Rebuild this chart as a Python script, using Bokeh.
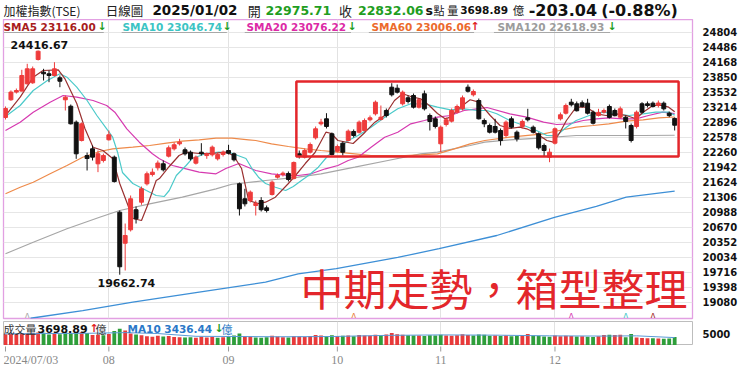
from bokeh.plotting import figure
from bokeh.models import Range1d, FixedTicker, Label, BoxAnnotation, ColumnDataSource
from bokeh.layouts import column
from bokeh.embed import file_html
from bokeh.resources import INLINE

# ---------------- data ----------------
opens = [22996, 23371, 23534, 23555, 23710, 23731, 24225, 23956, 23922, 23886,
         23837, 23371, 23235, 22896, 22508, 22189, 22332, 22014, 22084, 22523,
         22155, 20988, 20331, 20615, 21040, 21200, 21590, 21787, 21930, 22014,
         22176, 22332, 22438, 22311, 22260, 22028, 22260, 22189, 22205, 22120,
         22212, 22296, 22226, 21590, 21272, 21236, 21130, 21236, 21081, 21363,
         21730, 21787, 21808, 21702, 22226, 22155, 22260, 22565, 22862, 22968,
         22650, 22281, 22451, 22508, 22699, 22684, 22720, 22947, 23074, 22953,
         23144, 23638, 23617, 23286, 23413, 23462, 23214, 23498, 23038, 22968,
         22438, 22847, 22918, 23108, 23180, 23638, 23477, 23356, 22932, 22826,
         22805, 22720, 22614, 22968, 22684, 22805, 22989, 22790, 22650, 22402,
         22155, 22451, 22968, 23087, 23320, 23286, 23307, 23299, 23108, 23038,
         23108, 23229, 23144, 23002, 23002, 22826, 22805, 23286, 23286, 23299,
         23250, 23299, 23087, 22975.71]
highs = [23229, 23570, 23610, 24007, 24134, 24077, 24416.67, 24028, 23992, 24168,
         23886, 23462, 23271, 22932, 22890, 22253, 22402, 22296, 22230, 22720,
         22189, 21024, 20748, 21342, 21110, 21532, 21850, 21915, 22084, 22084,
         22402, 22466, 22544, 22360, 22296, 22189, 22451, 22253, 22402, 22253,
         22296, 22417, 22253, 21617, 21484, 21448, 21236, 21307, 21130, 21660,
         21808, 21851, 21851, 22063, 22296, 22338, 22466, 22805, 22968, 23087,
         22678, 22423, 22487, 22742, 22742, 22932, 22975, 23038, 23356, 23250,
         23186, 23723, 23695, 23568, 23462, 23504, 23398, 23568, 23080, 23017,
         22826, 22996, 23186, 23271, 23462, 23695, 23589, 23398, 22975, 22868,
         22968, 22763, 22932, 23017, 22720, 22953, 23180, 22826, 22678, 22445,
         22338, 22784, 23102, 23292, 23392, 23335, 23356, 23392, 23144, 23180,
         23186, 23271, 23186, 23229, 23038, 22868, 23144, 23320, 23335, 23335,
         23356, 23335, 23123, 22996]
lows = [22953, 23350, 23504, 23547, 23695, 23710, 24204, 23780, 23744, 23865,
        23638, 23144, 22847, 22120, 22487, 21872, 22084, 21837, 22042, 22508,
        21617, 19662.74, 19752, 20579, 20748, 21145, 21554, 21745, 21872, 21851,
        22148, 22296, 22402, 22189, 22084, 21999, 22189, 22120, 22169, 22084,
        22169, 22212, 22063, 20918, 21110, 21194, 20918, 21003, 20982, 21342,
        21702, 21745, 21639, 21681, 22126, 22126, 22232, 22529, 22826, 22763,
        22190, 22254, 22189, 22487, 22572, 22657, 22699, 22911, 23038, 22932,
        22996, 23441, 23504, 23250, 23292, 23186, 23186, 23144, 22720, 22763,
        22260, 22805, 22890, 23080, 23144, 23525, 23441, 22953, 22790, 22657,
        22657, 22402, 22572, 22763, 22487, 22763, 22911, 22657, 22317, 22169,
        22048, 22423, 22932, 23059, 23229, 23123, 23208, 23059, 22847, 23017,
        23080, 22975, 23020, 22975, 22763, 22466, 22763, 23080, 23208, 23208,
        23208, 23144, 23002, 22720]
closes = [23186, 23534, 23568, 23886, 24028, 24028, 24401, 23922, 23886, 24028,
          23765, 23426, 22862, 22226, 22862, 22126, 22155, 22226, 22189, 22629,
          21638, 19830.88, 20494, 21272, 20848, 21484, 21802, 21836, 22030, 21887,
          22353, 22417, 22472, 22226, 22120, 22155, 22226, 22226, 22367, 22212,
          22260, 22239, 22099, 21060, 21166, 21413, 21173, 21040, 21024, 21624,
          21766, 21815, 21681, 22042, 22169, 22296, 22423, 22756, 22896, 22805,
          22212, 22381, 22260, 22706, 22614, 22896, 22932, 22989, 23320, 23002,
          23038, 23477, 23532, 23532, 23335, 23214, 23371, 23180, 22911, 22805,
          22790, 22947, 23144, 23229, 23413, 23553, 23547, 22968, 22862, 22684,
          22684, 22508, 22896, 22790, 22544, 22911, 22947, 22684, 22353, 22296,
          22260, 22756, 23053, 23250, 23265, 23139, 23231, 23087, 22875, 23104,
          23144, 22998, 23034, 23180, 22913, 22508, 23108, 23108, 23250, 23230,
          23303, 23180, 23035.10, 22832.06]
volumes = [4900, 5100, 5000, 5300, 5200, 5400, 5600,
           5500, 4800, 5000, 4900, 5600, 5300, 5700, 5800,
           5400, 4600, 4700, 4500, 5000,
           6300, 7300, 6500,
           5200, 4800, 4500, 4000, 3800, 4200, 3900, 4100,
           3700, 3600, 3500, 3600, 3400, 3800, 3500, 3700, 3400, 3600, 4000, 4300,
           5200,
           4000, 3800, 3500, 3400, 3600, 4200, 3900, 3600, 3500, 4000, 3900, 3700, 4100, 4600, 4300, 4000, 4500,
           4100, 4200, 4300, 4000, 4600, 4400, 4200, 4700, 4500, 4800, 5400, 4900, 4700, 4500, 4400, 4300, 4100, 4500, 4300,
           4700, 4300, 4200, 4500, 4900, 4600, 4400, 4800, 4700, 4200, 4300, 4100, 4400, 4000, 4100, 4300, 5000, 4400, 4200, 3900, 3800,
           4300, 4000, 4200, 4100, 3900, 4000, 3800, 3700, 4000, 4600, 4700, 4600, 4700,
           3600, 5000, 3500, 3300, 3200, 3100, 3000, 2900, 3065, 3698.89]

# moving-average lines (bar index, value)
sma5_x = [0, 2.7, 5.1, 6.9, 9.7, 10.9, 13.1, 14.6, 16.1, 17.9, 19.7, 21.0, 22.3, 23.4, 25.0, 26.1, 27.7, 28.3,
          30.1, 31.9, 33.2, 35.6, 38.0, 40.5, 41.9, 43.4, 44.7, 46.5, 47.8, 49.6, 52.0, 53.3, 55.1, 56.9, 58.9,
          59.9, 61.1, 63.9, 66.1, 67.9, 69.7, 71.5, 73.0, 74.5, 76.3, 77.9, 79.4, 80.8, 81.8, 83.6, 85.4, 87.0,
          89.1, 90.9, 92.7, 94.5, 95.8, 97.6, 99.5, 100.7, 101.8, 103.1, 104.9, 106.8, 108.6, 110.4, 112.2,
          114.1, 115.9, 117.2, 119.0, 120.8, 121.9, 123]
sma5_y = [23038, 23426, 23850, 23992, 24007, 23822, 23292, 22762, 22366, 22296, 22126, 21596, 21200, 20854,
          20812, 21130, 21660, 21702, 21957, 22190, 22260, 22232, 22232, 22260, 22190, 21914, 21236, 21172,
          21200, 21306, 21596, 21766, 22020, 22254, 22684, 22656, 22508, 22444, 22684, 22896, 23038, 23356,
          23498, 23441, 23392, 23250, 23080, 22968, 23002, 23214, 23371, 23320, 23038, 22826, 22762, 22790,
          22756, 22656, 22508, 22472, 22656, 22932, 23214, 23214, 23074, 23038, 23074, 23038, 22968, 23108,
          23250, 23250, 23214, 23116.00]
sma10_x = [0, 2.7, 5.1, 7.7, 10.0, 11.3, 13.1, 15.0, 16.8, 18.6, 19.7, 20.6, 21.5, 23.4, 25.9, 27.7, 29.2,
           30.1, 31.4, 33.2, 34.3, 36.9, 39.2, 41.6, 44.2, 45.3, 46.5, 47.8, 49.6, 51.5, 52.9, 54.4, 55.7, 57.5,
           59.3, 61.1, 63.0, 64.8, 67.2, 69.7, 72.1, 74.5, 77.0, 79.4, 81.8, 84.3, 86.7, 88.5, 90.3, 92.7, 95.3,
           97.6, 99.5, 101.3, 103.1, 104.9, 107.3, 109.9, 112.2, 114.6, 117.2, 119.5, 121.9, 123]
sma10_y = [23016, 23250, 23568, 23780, 23922, 23850, 23638, 23356, 23038, 22756, 22578, 22260, 21830, 21596,
           21448, 21342, 21321, 21448, 21766, 21978, 22126, 22232, 22260, 22239, 22126, 21914, 21730, 21596,
           21518, 21448, 21533, 21660, 21766, 21942, 22190, 22332, 22508, 22614, 22790, 23002, 23180, 23286,
           23286, 23214, 23159, 23180, 23144, 23144, 23074, 22932, 22826, 22720, 22614, 22614, 22790, 22932,
           23038, 23108, 23074, 23038, 23074, 23108, 23108, 23046.74]
sma20_x = [0, 2.7, 5.1, 8.2, 10.6, 13.1, 16.1, 18.6, 20.1, 22.3, 24.6, 27.0, 28.3, 30.7, 31.9, 35.6, 38.7,
           40.5, 42.9, 46.0, 48.9, 52.0, 53.8, 56.2, 58.8, 61.1, 63.0, 64.8, 67.2, 69.7, 72.1, 74.5, 77.0, 79.4,
           81.8, 84.3, 86.7, 88.5, 92.7, 95.8, 98.9, 101.3, 103.6, 106.2, 108.6, 110.9, 113.5, 115.9, 118.2,
           120.8, 123]
sma20_y = [22720, 22896, 23108, 23320, 23462, 23426, 23356, 23250, 23108, 22756, 22472, 22226, 22120, 21978,
           21942, 21836, 21802, 21914, 22020, 21872, 21802, 21766, 21766, 21802, 21908, 21978, 22084, 22154,
           22366, 22578, 22684, 22862, 22932, 23002, 23038, 23144, 23180, 23208, 23074, 23002, 22896, 22847,
           22862, 22932, 22968, 22989, 22968, 22968, 23038, 23108, 23076.22]
sma60_x = [0, 2.7, 5.1, 8.2, 11.3, 14.2, 17.3, 19.7, 23.4, 26.5, 29.6, 32.5, 35.6, 38.7, 41.6, 44.7, 46.0,
           48.9, 52.0, 55.1, 58.0, 61.1, 64.2, 67.2, 70.3, 73.4, 76.3, 79.4, 82.5, 85.4, 88.1, 92.7, 98.9,
           101.8, 104.9, 108.0, 110.9, 114.1, 117.2, 120.1, 123]
sma60_y = [21378, 21518, 21624, 21802, 21978, 22154, 22275, 22332, 22366, 22402, 22451, 22493, 22523, 22557,
           22557, 22523, 22508, 22438, 22381, 22332, 22296, 22260, 22226, 22190, 22190, 22190, 22205, 22226,
           22332, 22438, 22508, 22578, 22650, 22720, 22790, 22826, 22862, 22917, 22947, 22989, 23006.06]
sma120_x = [0, 5.1, 11.3, 17.3, 21.0, 26.5, 32.5, 38.7, 41.6, 47.8, 53.8, 58.0, 64.2, 70.3, 76.3, 79.4,
            85.4, 88.1, 92.7, 98.9, 104.9, 110.9, 117.2, 123]
sma120_y = [20106, 20352, 20636, 20882, 21024, 21166, 21306, 21484, 21580, 21660, 21730, 21802, 21942,
            22084, 22226, 22260, 22402, 22472, 22523, 22565, 22614, 22614, 22614, 22618.93]
sma240_x = [4.6, 14.2, 23.4, 35.6, 47.8, 53.8, 60.8, 72.1, 79.7, 90.3, 100.9, 108.6, 114.1, 123]
sma240_y = [18740, 18902, 19080, 19292, 19504, 19682, 19794, 20028, 20218, 20494, 20876, 21109, 21306, 21433]
vma10_x = [0, 8, 15, 22, 28, 35, 43, 50, 60, 70, 80, 90, 100, 110, 116, 123]
vma10_y = [5100, 5200, 5300, 5600, 5200, 4000, 3900, 3800, 3900, 4400, 4600, 4500, 4200, 4100, 4200, 3436.44]

signal_idx = [4, 64, 104, 114, 119]
signal_colors = ["#A8A8A8", "#E8803A", "#D63AB0", "#44C8C8", "#A02828"]

price_ticks = [19080, 19398, 19716, 20034, 20352, 20670, 20988, 21306, 21624, 21942, 22260, 22578,
               22896, 23214, 23532, 23850, 24168, 24486, 24804]
month_idx = [0, 19, 41, 61, 80, 101]
month_labels = ["2024/07/03", "08", "09", "10", "11", "12"]

# ---------------- geometry ----------------
W = 740
BAR_PX = 5.48
FL, FR = 3, 697          # frame left / right on canvas
H_TOP = 19               # header strip height
P_TOP, P_BOT = 19, 318   # price frame (canvas y)
V_TOP, V_BOT = 321, 345  # volume frame (canvas y)
PTS_PER_PX = 21.2
x_start = -(5 - FL) / BAR_PX
x_end = x_start + (FR - FL) / BAR_PX
xr = Range1d(x_start, x_end)
y_hi = 24804 + (31.7 - P_TOP) * PTS_PER_PX
y_lo = y_hi - (P_BOT - P_TOP) * PTS_PER_PX


def sx_to_data(X):
    return x_start + (X - FL) / BAR_PX


def sy_to_price(Y):
    return y_hi - (Y - P_TOP) * PTS_PER_PX


CJK = "Noto Sans CJK TC"
LAT = "DejaVu Sans"
GREEN = "#1F9E1F"
RED_ARROW = "#E02020"

# ---------------- header strip (frame aligned with the panels below) ----------------
p0 = figure(width=W, height=H_TOP, x_range=Range1d(FL, FR), y_range=Range1d(H_TOP, 0),
            output_backend="svg", toolbar_location=None, x_axis_location=None, y_axis_location=None,
            min_border_left=FL, min_border_right=W - FR, min_border_top=0, min_border_bottom=0)
p0.outline_line_color = None
p0.grid.visible = False
p0.background_fill_color = "white"
p0.border_fill_color = "white"


def hlab(X, text, size, color, bold=False, font=LAT):
    p0.add_layout(Label(x=X, y=9.5, text=text, text_font=font, text_font_size=size, text_color=color,
                        text_font_style="bold" if bold else "normal", text_baseline="middle"))


hlab(3, "加權指數(TSE)", "12px", "#222222", font=CJK)
hlab(106, "日線圖", "12.5px", "#222222", font=CJK)
hlab(153, "2025/01/02", "13.5px", "#111111", bold=True)
hlab(249, "開", "13px", "#222222", font=CJK)
hlab(267, "22975.71", "12.5px", GREEN, bold=True)
hlab(341, "收", "13px", "#222222", font=CJK)
hlab(360, "22832.06", "12.5px", GREEN, bold=True)
hlab(428, "s", "12.5px", "#111111", bold=True)
hlab(436, "點", "11px", "#222222", font=CJK)
hlab(450, "量", "11px", "#222222", font=CJK)
hlab(463, "3698.89", "10.5px", "#111111", bold=True)
hlab(516, "億", "11.5px", "#222222", font=CJK)
hlab(532, "-203.04", "16px", "#111111", bold=True)
hlab(605, "(-0.88%)", "16px", "#111111", bold=True)

# ---------------- price panel ----------------
UP, DOWN = "#EE3B3B", "#111111"
idx = list(range(len(closes)))
src = ColumnDataSource(dict(
    x=idx, h=highs, l=lows,
    top=[max(o, c) for o, c in zip(opens, closes)],
    bot=[min(o, c) for o, c in zip(opens, closes)],
    col=[UP if c >= o else DOWN for o, c in zip(opens, closes)],
))

p1 = figure(width=W, height=320 - H_TOP, x_range=xr, y_range=Range1d(y_lo, y_hi),
            output_backend="svg", toolbar_location=None, x_axis_location=None,
            y_axis_location="right", min_border_left=FL, min_border_right=W - FR,
            min_border_top=P_TOP - H_TOP, min_border_bottom=320 - P_BOT)
p1.outline_line_color = "#E2A0E2"
p1.outline_line_width = 1.3
p1.background_fill_color = "white"
p1.border_fill_color = "white"
p1.yaxis.ticker = FixedTicker(ticks=price_ticks)
p1.yaxis.major_label_overrides = {t: str(t) for t in price_ticks}
p1.yaxis.major_tick_line_color = None
p1.yaxis.minor_tick_line_color = None
p1.yaxis.axis_line_color = None
p1.yaxis.major_label_standoff = 4
p1.yaxis.major_label_text_font = LAT
p1.yaxis.major_label_text_font_style = "bold"
p1.yaxis.major_label_text_font_size = "10px"
p1.yaxis.major_label_text_color = "#111111"
p1.ygrid.ticker = FixedTicker(ticks=price_ticks)
p1.xgrid.ticker = FixedTicker(ticks=month_idx[1:])
p1.ygrid.grid_line_color = "#E6E6E6"
p1.xgrid.grid_line_color = "#E2E2E2"

p1.line(sma240_x, sma240_y, line_color="#3D8FD6", line_width=1.3)
p1.line(sma120_x, sma120_y, line_color="#A6A6A6", line_width=1.2)
p1.line(sma60_x, sma60_y, line_color="#EE8A4A", line_width=1.2)
p1.line(sma20_x, sma20_y, line_color="#D63AB0", line_width=1.2)
p1.line(sma10_x, sma10_y, line_color="#4CCACA", line_width=1.2)
p1.line(sma5_x, sma5_y, line_color="#9A3030", line_width=1.2)

p1.segment(x0="x", y0="h", x1="x", y1="l", source=src, line_color="col", line_width=1)
p1.vbar(x="x", width=0.72, top="top", bottom="bot", source=src, fill_color="col", line_color="col", line_width=1)

p1.text(x=signal_idx, y=[sy_to_price(314)] * len(signal_idx), text=["ʌ"] * len(signal_idx),
        text_color=signal_colors, text_font_size="9px", text_align="center", text_baseline="middle")

p1.add_layout(BoxAnnotation(left=sx_to_data(298), right=sx_to_data(683), top=sy_to_price(81),
                            bottom=sy_to_price(156), fill_alpha=0, line_color="#E3262B",
                            line_alpha=1.0, line_width=2.5))


def lab(fig, X, Y, text, fb, size, color, bold=False, font=LAT, align="left"):
    fig.add_layout(Label(x=X - FL, y=fb - Y, x_units="screen", y_units="screen", text=text,
                         text_font=font, text_font_size=size, text_color=color,
                         text_font_style="bold" if bold else "normal",
                         text_baseline="middle", text_align=align))


legend = [(3, "SMA5 23116.00", "#A81C1C", 97, "↓", GREEN, 104),
          (122, "SMA10 23046.74", "#3CC4C4", 222, "↓", GREEN, 228),
          (246, "SMA20 23076.22", "#DC2AA6", 347, "↓", GREEN, 353),
          (371, "SMA60 23006.06", "#EC6A2C", 470, "↑", RED_ARROW, 477),
          (497, "SMA120 22618.93", "#9C9C9C", 607, "↓", GREEN, 614)]
for x0, t, c, xa, arr, ca, xe in legend:
    lab(p1, x0, 26, t, P_BOT, "10.5px", c, bold=True)
    lab(p1, xa, 26, arr, P_BOT, "11px", ca, bold=True)
    p1.segment(x0=[sx_to_data(x0)], x1=[sx_to_data(xe)], y0=[sy_to_price(32)], y1=[sy_to_price(32)],
               line_color="#A8A8A8", line_width=1)

lab(p1, 10, 44, "24416.67", P_BOT, "11px", "#111111", bold=True)
lab(p1, 97, 282, "19662.74", P_BOT, "11px", "#111111", bold=True)
lab(p1, 300, 286, "中期走勢，箱型整理", P_BOT, "43px", "#E3262B", font=CJK)

# ---------------- volume panel ----------------
V_PER_PX = 5000 / (V_BOT - 333.5)
vsrc = ColumnDataSource(dict(
    x=idx, v=volumes,
    col=["#E83A3A" if (closes[i] >= (closes[i - 1] if i else opens[0])) else "#2E9E3A" for i in idx],
))
p2 = figure(width=W, height=V_BOT - 320, x_range=xr, y_range=Range1d(0, (V_BOT - V_TOP) * V_PER_PX),
            output_backend="svg", toolbar_location=None, y_axis_location="right", x_axis_location=None,
            min_border_left=FL, min_border_right=W - FR, min_border_top=V_TOP - 320,
            min_border_bottom=0)
p2.outline_line_color = "#BDBDBD"
p2.background_fill_color = "white"
p2.border_fill_color = "white"
p2.yaxis.ticker = FixedTicker(ticks=[5000])
p2.yaxis.major_label_overrides = {5000: "5000"}
p2.yaxis.major_tick_line_color = None
p2.yaxis.minor_tick_line_color = None
p2.yaxis.axis_line_color = None
p2.yaxis.major_label_standoff = 4
p2.yaxis.major_label_text_font = LAT
p2.yaxis.major_label_text_font_style = "bold"
p2.yaxis.major_label_text_font_size = "10px"
p2.yaxis.major_label_text_color = "#111111"
p2.ygrid.visible = False
p2.xgrid.ticker = FixedTicker(ticks=month_idx[1:])
p2.xgrid.grid_line_color = "#E2E2E2"

p2.vbar(x="x", width=0.7, top="v", bottom=0, source=vsrc, fill_color="col", line_color=None)
p2.line(vma10_x, vma10_y, line_color="#5A9AD6", line_width=1)

lab(p2, 3, 328, "成交量", V_BOT, "11px", "#333333", font=CJK)
lab(p2, 37, 328, "3698.89", V_BOT, "11px", "#111111", bold=True)
lab(p2, 89, 328, "↑", V_BOT, "11px", RED_ARROW, bold=True)
lab(p2, 95, 328, "億", V_BOT, "11px", "#333333", font=CJK)
lab(p2, 127, 328, "MA10 3436.44", V_BOT, "10.5px", "#2A78C8", bold=True)
lab(p2, 214, 328, "↓", V_BOT, "11px", GREEN, bold=True)
lab(p2, 221, 328, "億", V_BOT, "11px", "#2A78C8", font=CJK)

# ---------------- date strip ----------------
p3 = figure(width=W, height=366 - V_BOT, x_range=xr, y_range=Range1d(366, V_BOT),
            output_backend="svg", toolbar_location=None, x_axis_location=None, y_axis_location=None,
            min_border_left=FL, min_border_right=W - FR, min_border_top=0, min_border_bottom=0)
p3.outline_line_color = None
p3.grid.visible = False
p3.background_fill_color = "white"
p3.border_fill_color = "white"
p3.segment(x0=month_idx, x1=month_idx, y0=[V_BOT + 1] * len(month_idx), y1=[V_BOT + 6] * len(month_idx),
           line_color="#9A9A9A", line_width=1)
p3.text(x=month_idx[1:], y=[359] * (len(month_idx) - 1), text=month_labels[1:], text_align="center",
        text_baseline="middle", text_font_size="12px", text_color="#888888", text_font=LAT)
p3.text(x=[x_start], y=[359], text=[month_labels[0]], text_align="left", text_baseline="middle",
        text_font_size="12px", text_color="#888888", text_font=LAT)

layout = column(p0, p1, p2, p3, spacing=0)
open("out.html", "w").write(file_html(layout, INLINE))
